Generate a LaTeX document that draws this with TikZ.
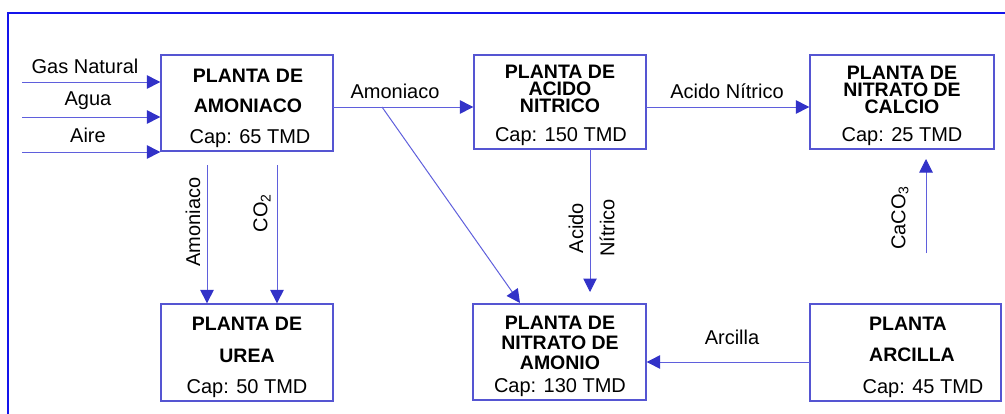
\documentclass[tikz,border=0pt]{standalone}
\usepackage{fontspec}
\setmainfont{Liberation Sans}
\usetikzlibrary{arrows.meta}
\definecolor{frameblue}{RGB}{20,20,235}
\definecolor{boxblue}{RGB}{85,85,210}
\definecolor{lineblue}{RGB}{95,95,220}
\definecolor{tipblue}{RGB}{50,50,200}
\tikzset{
  flow/.style={draw=lineblue, line width=1pt, -{Triangle[length=13.5pt,width=13.5pt,fill=tipblue,color=tipblue]}},
  plant/.style={draw=boxblue, line width=1.3pt, inner sep=0pt},
  ttl/.style={font=\fontsize{19.5}{20}\selectfont\bfseries, anchor=base, inner sep=0pt, text height=14pt, text depth=0pt},
  ttlblock/.style={font=\fontsize{19.5}{#1}\selectfont\bfseries, align=center, inner sep=0pt},
  captxt/.style={font=\fontsize{20}{22}\selectfont, anchor=base, inner sep=0pt},
  lab/.style={font=\fontsize{20}{22}\selectfont, inner sep=0pt},
  vlab/.style={font=\fontsize{20}{22}\selectfont, inner sep=0pt, rotate=90}
}
\begin{document}
\begin{tikzpicture}[x=1pt,y=-1pt]
\useasboundingbox (0,0) rectangle (1005,413);
\clip (0,0) rectangle (1005,413);
% frame
\draw[frameblue, line width=1.8pt] (8,440) -- (8,13) -- (1030,13);
% boxes
\node[plant, minimum width=172pt, minimum height=96pt] (amo) at (247,103) {};
\node[plant, minimum width=172pt, minimum height=94pt] (acn) at (560,102) {};
\node[plant, minimum width=184pt, minimum height=94pt] (nca) at (902,102) {};
\node[plant, minimum width=172pt, minimum height=97pt] (ure) at (247,352.5) {};
\node[plant, minimum width=173pt, minimum height=96pt] (nam) at (559.5,352) {};
\node[plant, minimum width=191pt, minimum height=97pt] (arc) at (905.5,352.5) {};
% box texts
\node[ttl] (amo1) at (248,82) {PLANTA DE};
\node[ttl] (amo2) at (248,112) {AMONIACO};
\node[captxt] (amo3) at (250,143) {Cap: 65 TMD};
\node[ttlblock=17pt] (acnt) at (560,89) {PLANTA DE\\ACIDO\\NITRICO};
\node[captxt] (acn4) at (561,141) {Cap: 150 TMD};
\node[ttlblock=17pt] (ncat) at (902,89.5) {PLANTA DE\\NITRATO DE\\CALCIO};
\node[captxt] (nca4) at (902,141) {Cap: 25 TMD};
\node[ttl] (ure1) at (247,330) {PLANTA DE};
\node[ttl] (ure2) at (247,362) {UREA};
\node[captxt] (ure3) at (247,393) {Cap: 50 TMD};
\node[ttlblock=20pt] (namt) at (560,343) {PLANTA DE\\NITRATO DE\\AMONIO};
\node[captxt] (nam4) at (560,392) {Cap: 130 TMD};
\node[ttl] (arc1) at (908,330) {PLANTA};
\node[ttl] (arc2) at (912,361) {ARCILLA};
\node[captxt] (arc3) at (923,393) {Cap: 45 TMD};
% input arrows
\coordinate (gn) at (22,82);
\coordinate (ag) at (22,117);
\coordinate (ai) at (22,152);
\draw[flow] (gn) -- (gn -| amo.west);
\draw[flow] (ag) -- (ag -| amo.west);
\draw[flow] (ai) -- (ai -| amo.west);
\node[lab] (lgn) at (85,66) {Gas Natural};
\node[lab] (lag) at (88,101) {Agua};
\node[lab] (lai) at (88,135) {Aire};
% amoniaco
\coordinate (am1) at (333,107);
\draw[flow] (am1) -- (am1 -| acn.west);
\node[lab] (lam) at (395,91) {Amoniaco};
\coordinate (amd) at (382,107);
\coordinate (amt) at (520,303);
\draw[flow] (amd) -- (amt);
% acido nitrico
\coordinate (an1) at (646,107);
\draw[flow] (an1) -- (an1 -| nca.west);
\node[lab] (lan) at (727,91) {Acido Nítrico};
% acido nitrico down
\coordinate (ad1) at (590,149);
\coordinate (ad2) at (590,292);
\draw[flow] (ad1) -- (ad2);
\node[vlab] (lac) at (576,228) {Acido};
\node[vlab] (lni) at (607,228) {Nítrico};
% urea inputs
\coordinate (u1) at (207,165);
\coordinate (u2) at (277,165);
\draw[flow] (u1) -- (u1 |- ure.north);
\draw[flow] (u2) -- (u2 |- ure.north);
\node[vlab] (lua) at (193,222) {Amoniaco};
\node[vlab] (luc) at (262,213) {CO\textsubscript{2}};
% CaCO3
\coordinate (c1) at (926,253);
\coordinate (c2) at (926,159);
\draw[flow] (c1) -- (c2);
\node[vlab] (lca) at (900,218) {CaCO\textsubscript{3}};
% arcilla
\coordinate (ar1) at (810,362);
\draw[flow] (ar1) -- (ar1 -| nam.east);
\node[lab] (lar) at (732,337) {Arcilla};
\end{tikzpicture}
\end{document}
